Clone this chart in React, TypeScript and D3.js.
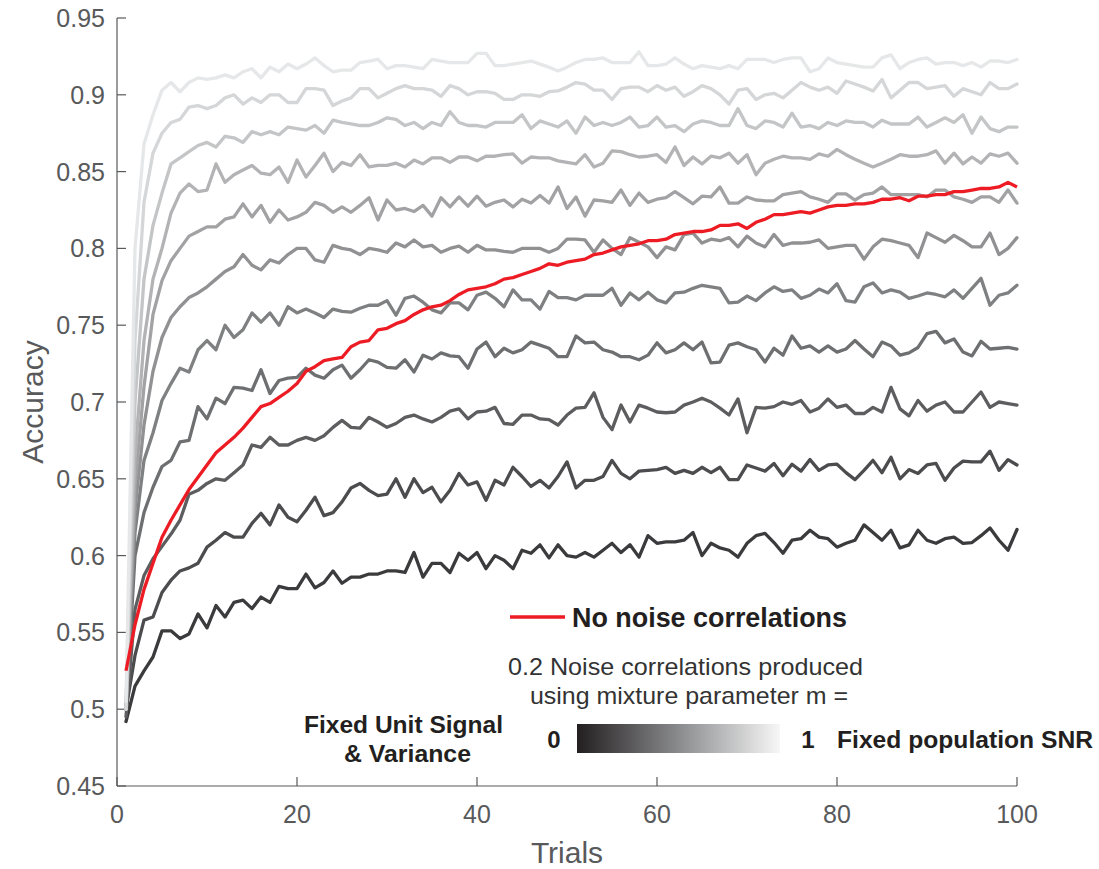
import React from "react";
import * as d3 from "d3";

// ---------- data ----------
const trials: number[] = d3.range(1, 101);

const m00 = [0.492,0.515,0.525,0.534,0.551,0.551,0.546,0.549,0.562,0.553,
0.5675,0.560,0.5695,0.571,0.5655,0.573,0.5695,0.580,0.5785,0.5785,
0.588,0.579,0.5825,0.590,0.582,0.586,0.586,0.588,0.588,0.590,
0.590,0.589,0.602,0.586,0.595,0.595,0.589,0.6015,0.597,0.602,
0.5915,0.600,0.597,0.5915,0.6035,0.6015,0.607,0.5985,0.607,0.600,
0.599,0.602,0.599,0.6035,0.608,0.602,0.607,0.599,0.613,0.608,
0.609,0.609,0.610,0.615,0.600,0.608,0.605,0.6035,0.599,0.608,
0.613,0.6145,0.6085,0.6015,0.610,0.611,0.6165,0.612,0.611,0.6055,
0.608,0.610,0.620,0.615,0.610,0.6165,0.605,0.607,0.6165,0.610,
0.608,0.611,0.612,0.608,0.6085,0.613,0.618,0.610,0.6035,0.617];

const m01 = [0.500,0.535,0.558,0.560,0.576,0.584,0.590,0.592,0.595,0.6055,
0.610,0.615,0.612,0.612,0.621,0.6275,0.620,0.633,0.625,0.622,
0.6295,0.638,0.626,0.628,0.635,0.644,0.647,0.6425,0.639,0.640,
0.650,0.638,0.650,0.641,0.6445,0.635,0.6425,0.6535,0.646,0.648,
0.636,0.649,0.646,0.6575,0.6515,0.645,0.649,0.644,0.6515,0.661,
0.644,0.649,0.649,0.6515,0.662,0.6535,0.650,0.655,0.6555,0.656,
0.6575,0.6535,0.6555,0.6535,0.6575,0.654,0.6575,0.6495,0.6495,0.659,
0.657,0.655,0.660,0.652,0.6595,0.655,0.6625,0.6555,0.659,0.6595,
0.654,0.6495,0.6555,0.662,0.654,0.664,0.650,0.656,0.6535,0.659,
0.660,0.649,0.657,0.6615,0.661,0.661,0.668,0.6555,0.6625,0.659];

const m02 = [0.495,0.565,0.587,0.598,0.606,0.614,0.623,0.640,0.6425,0.647,
0.650,0.649,0.654,0.659,0.672,0.6705,0.677,0.672,0.672,0.675,
0.677,0.675,0.678,0.6835,0.688,0.6835,0.683,0.690,0.687,0.6835,
0.686,0.690,0.6915,0.689,0.687,0.690,0.694,0.6955,0.689,0.6935,
0.694,0.6965,0.686,0.6855,0.6915,0.6915,0.689,0.6885,0.685,0.6915,
0.696,0.6965,0.706,0.690,0.682,0.698,0.687,0.698,0.696,0.6935,
0.693,0.6935,0.698,0.700,0.7025,0.700,0.696,0.6915,0.702,0.680,
0.6965,0.696,0.697,0.700,0.6985,0.701,0.6935,0.696,0.702,0.6965,
0.698,0.6925,0.6925,0.6965,0.6935,0.7095,0.6955,0.691,0.701,0.694,
0.698,0.700,0.6935,0.6935,0.700,0.7065,0.6965,0.700,0.699,0.698];

const m03 = [0.500,0.600,0.628,0.6445,0.658,0.662,0.674,0.675,0.697,0.689,
0.7025,0.699,0.7095,0.709,0.7075,0.721,0.7055,0.714,0.7155,0.716,
0.722,0.7175,0.7155,0.721,0.724,0.7155,0.721,0.7275,0.726,0.7225,
0.722,0.7275,0.7195,0.7305,0.728,0.732,0.730,0.7295,0.722,0.7345,
0.739,0.7295,0.735,0.732,0.734,0.739,0.737,0.735,0.7295,0.7295,
0.743,0.7385,0.739,0.734,0.7325,0.7295,0.7295,0.7275,0.7305,0.7385,
0.732,0.734,0.7385,0.734,0.739,0.7255,0.726,0.737,0.7385,0.736,
0.734,0.726,0.735,0.7305,0.743,0.735,0.7365,0.7325,0.7365,0.7325,
0.7345,0.740,0.7345,0.7295,0.739,0.7365,0.7305,0.732,0.7355,0.7445,
0.746,0.7385,0.741,0.7325,0.730,0.7395,0.7345,0.735,0.7355,0.7345];

const m04 = [0.500,0.615,0.662,0.680,0.701,0.712,0.722,0.7195,0.734,0.740,
0.734,0.750,0.742,0.747,0.758,0.752,0.758,0.750,0.762,0.758,
0.7605,0.758,0.755,0.7605,0.759,0.7585,0.761,0.763,0.763,0.766,
0.7565,0.7675,0.769,0.765,0.760,0.758,0.7645,0.7645,0.760,0.7695,
0.7715,0.7675,0.762,0.773,0.7665,0.7665,0.7605,0.772,0.768,0.768,
0.7665,0.7695,0.7695,0.7695,0.774,0.763,0.771,0.7665,0.7715,0.7665,
0.7645,0.771,0.7715,0.774,0.776,0.775,0.774,0.7645,0.765,0.769,
0.766,0.771,0.775,0.772,0.773,0.7675,0.7695,0.7735,0.771,0.777,
0.766,0.765,0.775,0.7775,0.771,0.773,0.7715,0.7675,0.769,0.771,
0.770,0.7685,0.773,0.7675,0.774,0.7805,0.763,0.7695,0.771,0.776];

const m05 = [0.500,0.630,0.685,0.720,0.742,0.755,0.762,0.768,0.771,0.775,
0.780,0.785,0.788,0.796,0.789,0.786,0.7925,0.7905,0.796,0.800,
0.800,0.7925,0.791,0.802,0.800,0.799,0.796,0.800,0.799,0.7975,
0.8035,0.801,0.8055,0.801,0.802,0.7975,0.800,0.8015,0.7975,0.802,
0.799,0.799,0.798,0.7975,0.800,0.800,0.800,0.7975,0.800,0.806,
0.806,0.8055,0.7975,0.8055,0.800,0.796,0.807,0.804,0.801,0.794,
0.801,0.799,0.809,0.810,0.8035,0.806,0.805,0.807,0.801,0.808,
0.8035,0.801,0.809,0.802,0.8035,0.8035,0.804,0.8055,0.800,0.801,
0.802,0.802,0.793,0.801,0.806,0.805,0.8035,0.802,0.794,0.810,
0.807,0.804,0.8085,0.805,0.801,0.801,0.810,0.796,0.800,0.807];

const m06 = [0.500,0.645,0.710,0.757,0.779,0.792,0.800,0.808,0.811,0.814,
0.814,0.819,0.8205,0.829,0.8205,0.828,0.817,0.825,0.8185,0.8205,
0.8235,0.830,0.828,0.8235,0.827,0.8235,0.828,0.833,0.8185,0.8315,
0.825,0.826,0.824,0.828,0.821,0.833,0.827,0.8335,0.8275,0.834,
0.8275,0.830,0.8315,0.827,0.832,0.8295,0.8345,0.8295,0.840,0.826,
0.8335,0.821,0.8315,0.831,0.830,0.838,0.828,0.836,0.830,0.832,
0.833,0.837,0.833,0.829,0.834,0.8335,0.840,0.8295,0.8295,0.8335,
0.8315,0.831,0.831,0.835,0.836,0.837,0.8335,0.832,0.830,0.8355,
0.8355,0.8315,0.835,0.836,0.840,0.835,0.835,0.835,0.835,0.8335,
0.838,0.838,0.8335,0.832,0.830,0.8335,0.8335,0.830,0.838,0.8295];

const m07 = [0.500,0.665,0.740,0.780,0.800,0.823,0.836,0.842,0.837,0.838,
0.855,0.843,0.848,0.851,0.854,0.849,0.848,0.853,0.843,0.8575,
0.8465,0.854,0.862,0.850,0.856,0.854,0.861,0.853,0.854,0.854,
0.8555,0.853,0.8575,0.855,0.859,0.859,0.856,0.8595,0.8595,0.857,
0.860,0.860,0.861,0.8615,0.8555,0.8595,0.859,0.859,0.857,0.856,
0.855,0.861,0.853,0.8555,0.8635,0.863,0.861,0.8595,0.860,0.861,
0.856,0.866,0.854,0.8595,0.855,0.860,0.859,0.862,0.8555,0.861,
0.848,0.8555,0.858,0.860,0.859,0.859,0.858,0.8615,0.860,0.8645,
0.861,0.858,0.8555,0.853,0.8555,0.858,0.861,0.860,0.860,0.861,
0.8635,0.8555,0.862,0.855,0.8595,0.8555,0.8615,0.860,0.862,0.8555];

const m08 = [0.500,0.700,0.780,0.815,0.836,0.855,0.859,0.863,0.867,0.869,
0.866,0.873,0.872,0.869,0.876,0.874,0.876,0.874,0.879,0.878,
0.877,0.880,0.875,0.8835,0.882,0.881,0.880,0.880,0.882,0.885,
0.884,0.880,0.882,0.878,0.882,0.880,0.889,0.882,0.880,0.880,
0.879,0.882,0.882,0.882,0.887,0.878,0.883,0.881,0.879,0.883,
0.875,0.8855,0.880,0.882,0.880,0.882,0.8855,0.879,0.880,0.8855,
0.879,0.880,0.876,0.881,0.883,0.882,0.880,0.880,0.891,0.880,
0.878,0.883,0.882,0.879,0.888,0.879,0.880,0.878,0.882,0.880,
0.883,0.882,0.882,0.879,0.8835,0.881,0.881,0.881,0.8855,0.879,
0.882,0.885,0.882,0.887,0.875,0.8855,0.878,0.876,0.879,0.879];

const m09 = [0.500,0.740,0.830,0.862,0.875,0.882,0.884,0.892,0.893,0.891,
0.893,0.898,0.900,0.894,0.898,0.895,0.900,0.900,0.895,0.895,
0.904,0.904,0.903,0.893,0.896,0.898,0.904,0.904,0.898,0.901,
0.904,0.906,0.904,0.904,0.903,0.899,0.906,0.904,0.900,0.902,
0.902,0.901,0.897,0.897,0.900,0.900,0.899,0.902,0.9025,0.905,
0.908,0.907,0.903,0.903,0.897,0.904,0.905,0.905,0.902,0.906,
0.903,0.905,0.899,0.902,0.906,0.904,0.900,0.894,0.903,0.904,
0.897,0.900,0.901,0.898,0.903,0.908,0.905,0.903,0.905,0.901,
0.909,0.907,0.905,0.9025,0.910,0.898,0.903,0.908,0.908,0.904,
0.905,0.906,0.899,0.904,0.902,0.900,0.908,0.904,0.904,0.907];

const m10 = [0.505,0.800,0.868,0.887,0.903,0.908,0.902,0.908,0.911,0.910,
0.911,0.913,0.911,0.915,0.917,0.911,0.918,0.915,0.920,0.917,
0.920,0.924,0.919,0.915,0.916,0.916,0.921,0.922,0.923,0.917,
0.919,0.919,0.918,0.917,0.923,0.922,0.921,0.921,0.921,0.927,
0.927,0.919,0.919,0.920,0.921,0.922,0.920,0.918,0.9155,0.918,
0.921,0.923,0.923,0.924,0.921,0.921,0.921,0.928,0.919,0.919,
0.920,0.924,0.920,0.917,0.919,0.918,0.917,0.919,0.917,0.923,
0.923,0.923,0.921,0.923,0.924,0.924,0.915,0.917,0.924,0.921,
0.920,0.919,0.918,0.918,0.924,0.926,0.917,0.921,0.923,0.924,
0.920,0.921,0.921,0.919,0.921,0.918,0.922,0.922,0.921,0.923];

const noCorrelation = [0.525,0.555,0.578,0.595,0.612,0.623,0.633,0.643,0.651,0.659,
0.667,0.672,0.677,0.683,0.690,0.697,0.699,0.703,0.707,0.712,
0.720,0.723,0.727,0.728,0.729,0.736,0.739,0.740,0.747,0.748,
0.751,0.753,0.757,0.760,0.762,0.763,0.766,0.770,0.773,0.774,
0.775,0.777,0.780,0.781,0.783,0.785,0.787,0.790,0.789,0.791,
0.792,0.793,0.796,0.797,0.799,0.801,0.802,0.803,0.805,0.805,
0.806,0.809,0.810,0.811,0.811,0.812,0.815,0.815,0.816,0.813,
0.817,0.819,0.822,0.822,0.823,0.824,0.823,0.825,0.827,0.828,
0.828,0.829,0.829,0.830,0.832,0.832,0.833,0.831,0.834,0.834,
0.835,0.835,0.837,0.837,0.838,0.839,0.839,0.840,0.843,0.840];

const mixtureValues = [0, 0.1, 0.2, 0.3, 0.4, 0.5, 0.6, 0.7, 0.8, 0.9, 1];
const mixtureSeries = [m00, m01, m02, m03, m04, m05, m06, m07, m08, m09, m10];

const xTicks = [0, 20, 40, 60, 80, 100];
const yTicks = [0.45, 0.5, 0.55, 0.6, 0.65, 0.7, 0.75, 0.8, 0.85, 0.9, 0.95];
const yTickLabels = ["0.45", "0.5", "0.55", "0.6", "0.65", "0.7", "0.75", "0.8", "0.85", "0.9", "0.95"];

// ---------- layout ----------
const W = 1099;
const H = 869;
const x = d3.scaleLinear().domain([0, 100]).range([117, 1017]);
const y = d3.scaleLinear().domain([0.45, 0.95]).range([786, 18]);
const grayScale = d3.scaleLinear<string>().domain([0, 1]).range(["#3b3b3d", "#e6e7e8"]).interpolate(d3.interpolateRgb);

const axisColor = "#58595b";
const FONT = "'Liberation Sans', Arial, Helvetica, sans-serif";

export default function App() {
  const line = d3
    .line<number>()
    .x((_, i) => x(trials[i]))
    .y((d) => y(d));

  return (
    <svg
      width={W}
      height={H}
      style={{ position: "absolute", left: 0, top: 0, background: "#fff" }}
      fontFamily={FONT}
    >
      <defs>
        <linearGradient id="mixGrad" x1="0" x2="1" y1="0" y2="0">
          <stop offset="0%" stopColor="#231f20" />
          <stop offset="50%" stopColor="#8a8b8d" />
          <stop offset="100%" stopColor="#f7f7f7" />
        </linearGradient>
      </defs>
      <rect width={W} height={H} fill="#fff" />

      {/* axes */}
      <line x1={x(0)} x2={x(0)} y1={y(0.95)} y2={y(0.45)} stroke={axisColor} strokeWidth={1.2} />
      <line x1={x(0)} x2={x(100)} y1={y(0.45)} y2={y(0.45)} stroke={axisColor} strokeWidth={1.2} />
      {yTicks.map((t, i) => (
        <g key={"y" + i}>
          <line x1={x(0)} x2={x(0) + 9} y1={y(t)} y2={y(t)} stroke={axisColor} strokeWidth={1.2} />
          <text x={x(0) - 12} y={y(t)} dy="0.36em" textAnchor="end" fontSize={25} fill={axisColor}>
            {yTickLabels[i]}
          </text>
        </g>
      ))}
      {xTicks.map((t, i) => (
        <g key={"x" + i}>
          <line x1={x(t)} x2={x(t)} y1={y(0.45)} y2={y(0.45) - 9} stroke={axisColor} strokeWidth={1.2} />
          <text x={x(t)} y={823} textAnchor="middle" fontSize={25} fill={axisColor}>
            {String(t)}
          </text>
        </g>
      ))}
      <text x={567} y={863} textAnchor="middle" fontSize={30} fill={axisColor}>
        Trials
      </text>
      <text transform="translate(32,402) rotate(-90)" dy="0.36em" textAnchor="middle" fontSize={30} fill={axisColor}>
        Accuracy
      </text>

      {/* lines */}
      {mixtureSeries.map((s, k) => (
        <path
          key={"m" + k}
          d={line(s) || ""}
          fill="none"
          stroke={grayScale(mixtureValues[k])}
          strokeWidth={3.3}
          strokeLinejoin="round"
          strokeLinecap="round"
        />
      ))}
      <path d={line(noCorrelation) || ""} fill="none" stroke="#ed1c24" strokeWidth={3.3} strokeLinejoin="round" />

      {/* legend */}
      <line x1={510} x2={565} y1={617} y2={617} stroke="#ed1c24" strokeWidth={3.5} />
      <text x={572} y={627} fontSize={27} fontWeight="bold" fill="#231f20" textLength={275} lengthAdjust="spacingAndGlyphs">
        No noise correlations
      </text>
      <text x={508} y={675} fontSize={24} fill="#333" textLength={355} lengthAdjust="spacingAndGlyphs">
        0.2 Noise correlations produced
      </text>
      <text x={530} y={704} fontSize={24} fill="#333" textLength={318} lengthAdjust="spacingAndGlyphs">
        using mixture parameter m =
      </text>
      <text x={304} y={733} fontSize={23} fontWeight="bold" fill="#231f20" textLength={199} lengthAdjust="spacingAndGlyphs">
        Fixed Unit Signal
      </text>
      <text x={344} y={762} fontSize={23} fontWeight="bold" fill="#231f20" textLength={127} lengthAdjust="spacingAndGlyphs">
        &amp; Variance
      </text>
      <text x={554} y={748} textAnchor="middle" fontSize={24} fontWeight="bold" fill="#231f20">
        0
      </text>
      <rect x={577} y={724} width={203} height={29} fill="url(#mixGrad)" />
      <text x={808} y={748} textAnchor="middle" fontSize={24} fontWeight="bold" fill="#231f20">
        1
      </text>
      <text x={837} y={748} fontSize={23} fontWeight="bold" fill="#231f20" textLength={256} lengthAdjust="spacingAndGlyphs">
        Fixed population SNR
      </text>
    </svg>
  );
}
